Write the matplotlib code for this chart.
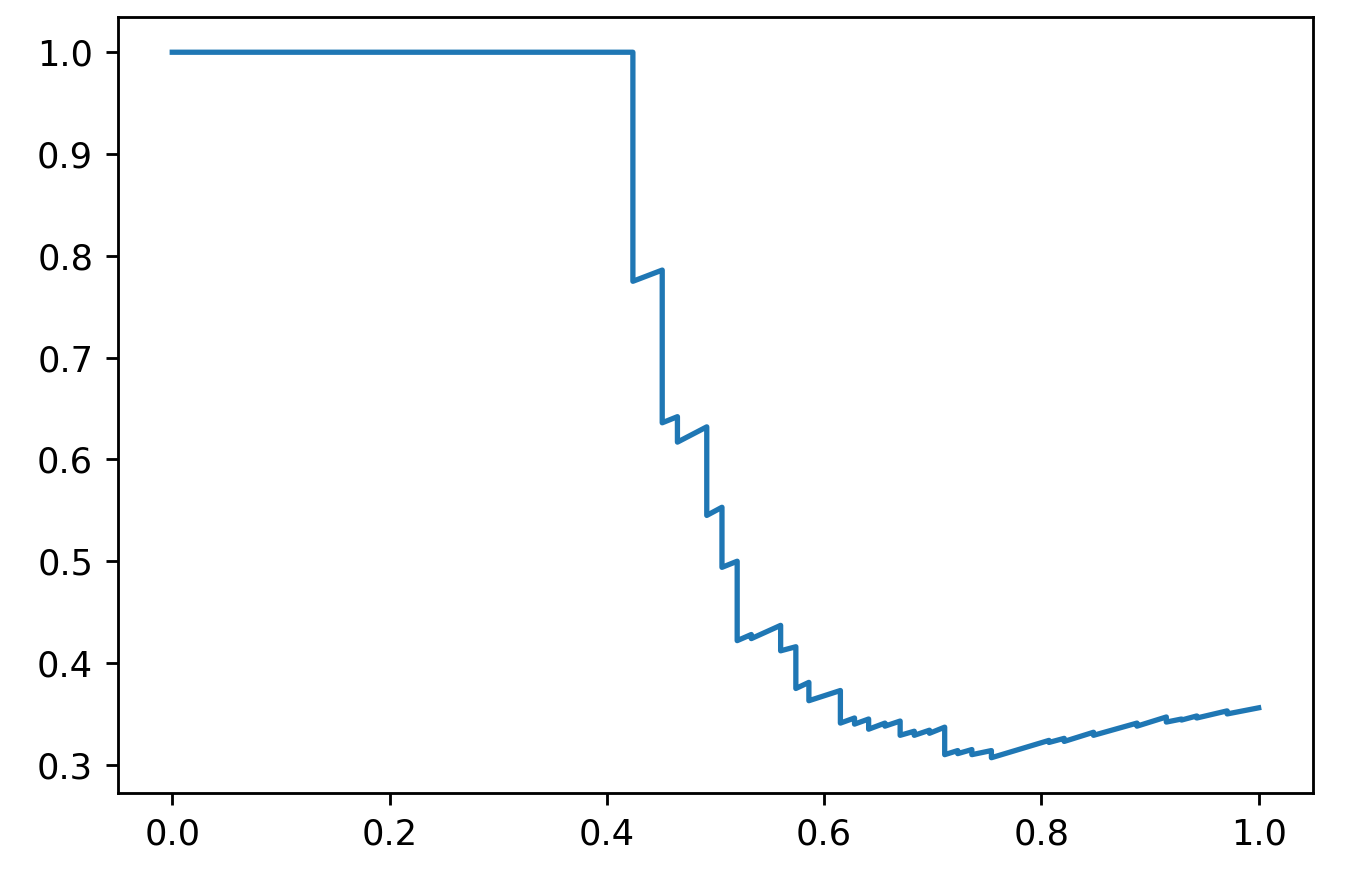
import matplotlib
matplotlib.use("Agg")
import matplotlib.pyplot as plt

# vertices of the curve
x = [0.0, 0.424, 0.424, 0.451, 0.451, 0.465, 0.465, 0.492, 0.492, 0.506,
     0.506, 0.520, 0.520, 0.533, 0.533, 0.560, 0.560, 0.574, 0.574, 0.586,
     0.586, 0.615, 0.615, 0.628, 0.628, 0.641, 0.641, 0.656, 0.656, 0.670,
     0.670, 0.683, 0.683, 0.697, 0.697, 0.711, 0.711, 0.723, 0.723, 0.736,
     0.736, 0.754, 0.754, 0.807, 0.807, 0.821, 0.821, 0.848, 0.848, 0.888,
     0.888, 0.915, 0.915, 0.929, 0.929, 0.943, 0.943, 0.971, 0.971, 1.0]
y = [1.0, 1.0, 0.775, 0.786, 0.636, 0.642, 0.617, 0.632, 0.545, 0.553,
     0.494, 0.500, 0.422, 0.428, 0.424, 0.437, 0.412, 0.416, 0.375, 0.381,
     0.363, 0.373, 0.341, 0.346, 0.340, 0.345, 0.335, 0.341, 0.338, 0.343,
     0.329, 0.333, 0.329, 0.334, 0.331, 0.337, 0.310, 0.314, 0.311, 0.315,
     0.310, 0.314, 0.307, 0.324, 0.322, 0.326, 0.323, 0.332, 0.329, 0.341,
     0.338, 0.347, 0.342, 0.345, 0.344, 0.348, 0.346, 0.353, 0.350, 0.356]

dpi = 254
fig = plt.figure(figsize=(1354 / dpi, 874 / dpi), dpi=dpi)
ax = fig.add_axes([0.0871, 0.0927, 0.8826, 0.8879])
ax.plot(x, y)

fig.savefig("out.png", dpi=dpi)
